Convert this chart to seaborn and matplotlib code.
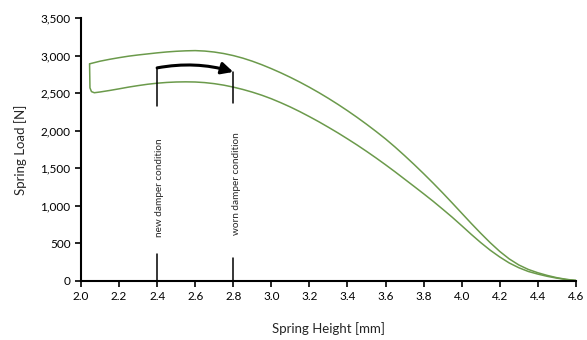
import matplotlib
matplotlib.use("Agg")
import matplotlib.pyplot as plt
import seaborn as sns
import pandas as pd
from matplotlib.patches import FancyArrowPatch

# spring height [mm] and load [N]
height_upper = [2.045, 2.1, 2.15, 2.2, 2.25, 2.3, 2.35, 2.4, 2.45, 2.5, 2.55, 2.6, 2.65, 2.7,
                2.75, 2.8, 2.85, 2.9, 2.95, 3.0, 3.05, 3.1, 3.15, 3.2, 3.25, 3.3, 3.35, 3.4,
                3.45, 3.5, 3.55, 3.6, 3.65, 3.7, 3.75, 3.8, 3.85, 3.9, 3.95, 4.0, 4.05, 4.1,
                4.15, 4.2, 4.25, 4.3, 4.35, 4.4, 4.45, 4.5, 4.55, 4.6]
load_upper = [2890, 2925, 2950, 2972, 2992, 3008, 3022, 3036, 3048, 3057, 3063, 3066, 3060, 3047,
              3027, 3000, 2966, 2925, 2878, 2826, 2770, 2710, 2646, 2578, 2506, 2430, 2350, 2266,
              2178, 2086, 1990, 1890, 1782, 1668, 1550, 1428, 1302, 1172, 1038, 902, 766, 634,
              508, 392, 292, 212, 152, 108, 72, 42, 20, 5]

height_lower = [2.045, 2.047, 2.055, 2.07, 2.1, 2.15, 2.2, 2.25, 2.3, 2.35, 2.4, 2.45, 2.5, 2.55,
                2.6, 2.65, 2.7, 2.75, 2.8, 2.85, 2.9, 2.95, 3.0, 3.05, 3.1, 3.15, 3.2, 3.25,
                3.3, 3.35, 3.4, 3.45, 3.5, 3.55, 3.6, 3.65, 3.7, 3.75, 3.8, 3.85, 3.9, 3.95,
                4.0, 4.05, 4.1, 4.15, 4.2, 4.25, 4.3, 4.35, 4.4, 4.45, 4.5, 4.55, 4.6]
load_lower = [2890, 2570, 2520, 2505, 2515, 2535, 2557, 2580, 2600, 2618, 2632, 2642, 2648, 2650,
              2648, 2640, 2626, 2606, 2580, 2549, 2513, 2472, 2425, 2372, 2315, 2253, 2187, 2118,
              2045, 1970, 1891, 1810, 1725, 1637, 1546, 1452, 1355, 1258, 1160, 1060, 955, 848,
              735, 620, 510, 408, 318, 238, 175, 125, 90, 60, 36, 17, 5]

# damper condition markers
marker_x = [2.4, 2.8]
marker_labels = ["new damper condition", "worn damper condition"]
marker_top = [(2836, 2324), (2782, 2369)]   # upper tick segments
marker_bottom = [360, 300]                  # lower tick segments (from 0)
label_y = [1240, 1290]

x_ticks = [2.0, 2.2, 2.4, 2.6, 2.8, 3.0, 3.2, 3.4, 3.6, 3.8, 4.0, 4.2, 4.4, 4.6]
y_ticks = [0, 500, 1000, 1500, 2000, 2500, 3000, 3500]

sns.set_style("ticks")
plt.rcParams["font.family"] = ["Lato", "DejaVu Sans"]

fig, ax = plt.subplots(figsize=(5.87, 3.40), dpi=100)
fig.subplots_adjust(left=0.138, right=0.981, top=0.947, bottom=0.174)

green = "#6b9a4b"
df_up = pd.DataFrame({"h": height_upper, "load": load_upper})
df_lo = pd.DataFrame({"h": height_lower, "load": load_lower})
sns.lineplot(data=df_up, x="h", y="load", sort=False, color=green, linewidth=1.1, ax=ax)
sns.lineplot(data=df_lo, x="h", y="load", sort=False, color=green, linewidth=1.1, ax=ax)

for x, (y0, y1), yb, lab, ly in zip(marker_x, marker_top, marker_bottom, marker_labels, label_y):
    ax.plot([x, x], [y0, y1], color="black", linewidth=1.1)
    ax.plot([x, x], [0, yb], color="black", linewidth=1.1)
    ax.text(x + 0.015, ly, lab, rotation=90, ha="center", va="center", fontsize=7.2)

arrow = FancyArrowPatch((marker_x[0], marker_top[0][0]), (marker_x[1], marker_top[1][0]),
                        connectionstyle="arc3,rad=-0.12", arrowstyle="-|>,head_length=7,head_width=3.5",
                        color="black", linewidth=2.2, shrinkA=0, shrinkB=0)
ax.add_patch(arrow)

ax.set_xlim(2.0, 4.6)
ax.set_ylim(0, 3500)
ax.set_xticks(x_ticks)
ax.set_yticks(y_ticks)
ax.set_xticklabels([f"{t:.1f}" for t in x_ticks])
ax.set_yticklabels([f"{t:,}" for t in y_ticks])
ax.tick_params(axis="both", labelsize=8.5, length=4, width=1.2, color="black", labelcolor="black")
for s in ["left", "bottom"]:
    ax.spines[s].set_linewidth(1.5)
    ax.spines[s].set_color("black")
sns.despine(ax=ax)

ax.set_xlabel("Spring Height [mm]", fontsize=9.5, labelpad=14)
ax.set_ylabel("Spring Load [N]", fontsize=9.5, labelpad=10)

plt.savefig("out.png", dpi=100)
